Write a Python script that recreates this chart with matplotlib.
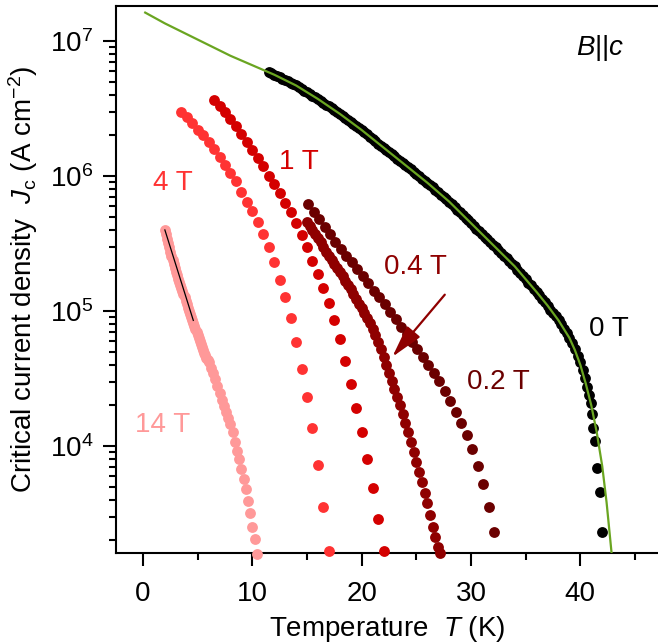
import numpy as np
import matplotlib.pyplot as plt
from matplotlib.ticker import MultipleLocator, LogLocator, NullFormatter

plt.rcParams['font.family'] = ['Liberation Sans', 'DejaVu Sans']
plt.rcParams['mathtext.fontset'] = 'custom'
plt.rcParams['mathtext.rm'] = 'Liberation Sans'
plt.rcParams['mathtext.it'] = 'Liberation Sans:italic'
plt.rcParams['mathtext.bf'] = 'Liberation Sans:bold'
plt.rcParams['font.size'] = 20

# Jc(T) data, stored as log10(Jc / A cm^-2)
t_0T = [11.5, 11.75, 12, 12.25, 12.5, 12.75, 13, 13.25, 13.5, 13.75, 14, 14.25, 14.5,
        14.75, 15, 15.25, 15.5, 15.75, 16, 16.25, 16.5, 16.75, 17, 17.25, 17.5, 17.75,
        18, 18.25, 18.5, 18.75, 19, 19.25, 19.5, 19.75, 20, 20.25, 20.5, 20.75, 21,
        21.25, 21.5, 21.75, 22, 22.25, 22.5, 22.75, 23, 23.25, 23.5, 23.75, 24, 24.25,
        24.5, 24.75, 25, 25.25, 25.5, 25.75, 26, 26.25, 26.5, 26.75, 27, 27.25, 27.5,
        27.75, 28, 28.25, 28.5, 28.75, 29, 29.25, 29.5, 29.75, 30, 30.25, 30.5, 30.75,
        31, 31.25, 31.5, 31.75, 32, 32.25, 32.5, 32.75, 33, 33.25, 33.5, 33.75, 34,
        34.25, 34.5, 34.75, 35, 35.25, 35.5, 35.75, 36, 36.25, 36.5, 36.75, 37, 37.25,
        37.5, 37.75, 38, 38.25, 38.5, 38.75, 39, 39.25, 39.5, 39.75, 40, 40.2, 40.4,
        40.6, 40.8, 41.0, 41.1, 41.2, 41.35, 41.55, 41.8, 42.0]
logj_0T = [6.77, 6.76, 6.75, 6.74, 6.73, 6.72, 6.71, 6.70, 6.69, 6.68, 6.67, 6.657, 6.645,
           6.632, 6.62, 6.607, 6.595, 6.582, 6.57, 6.555, 6.54, 6.527, 6.515, 6.502, 6.49,
           6.475, 6.46, 6.445, 6.43, 6.415, 6.40, 6.385, 6.37, 6.355, 6.34, 6.325, 6.31,
           6.292, 6.275, 6.257, 6.24, 6.225, 6.21, 6.195, 6.18, 6.162, 6.145, 6.127, 6.11,
           6.095, 6.08, 6.065, 6.05, 6.032, 6.015, 5.997, 5.98, 5.965, 5.95, 5.932, 5.915,
           5.897, 5.88, 5.862, 5.845, 5.827, 5.81, 5.79, 5.77, 5.75, 5.73, 5.71, 5.69,
           5.67, 5.65, 5.63, 5.61, 5.59, 5.57, 5.55, 5.53, 5.51, 5.49, 5.47, 5.45, 5.43,
           5.41, 5.39, 5.37, 5.35, 5.33, 5.305, 5.28, 5.257, 5.235, 5.21, 5.19, 5.165,
           5.14, 5.115, 5.09, 5.065, 5.04, 5.01, 4.985, 4.96, 4.93, 4.90, 4.865, 4.835,
           4.80, 4.76, 4.72, 4.67, 4.62, 4.56, 4.50, 4.44, 4.38, 4.32, 4.24, 4.13, 4.04,
           3.84, 3.66, 3.36]

t_02T = [15.1, 15.6, 16.1, 16.6, 17.1, 17.6, 18.1, 18.6, 19.1, 19.6, 20.1, 20.6, 21.1,
         21.6, 22.1, 22.6, 23.1, 23.6, 24.1, 24.6, 25.1, 25.6, 26.1, 26.6, 27.1, 27.6,
         28.1, 28.6, 29.1, 29.6, 30.1, 30.6, 31.1, 31.6, 32.1]
logj_02T = [5.79, 5.73, 5.68, 5.62, 5.57, 5.51, 5.46, 5.41, 5.36, 5.31, 5.26, 5.21, 5.15,
            5.10, 5.05, 4.99, 4.94, 4.88, 4.83, 4.77, 4.72, 4.66, 4.60, 4.54, 4.48, 4.41,
            4.33, 4.25, 4.17, 4.08, 3.98, 3.85, 3.72, 3.55, 3.36]

t_04T = [15.0, 15.25, 15.5, 15.75, 16.0, 16.25, 16.5, 16.75, 17.0, 17.25, 17.5, 17.75,
         18.0, 18.25, 18.5, 18.75, 19.0, 19.25, 19.5, 19.75, 20.0, 20.25, 20.5, 20.75,
         21.0, 21.25, 21.5, 21.75, 22.0, 22.25, 22.5, 22.75, 23.0, 23.25, 23.5, 23.75,
         24.0, 24.25, 24.5, 24.75, 25.0, 25.25, 25.5, 25.75, 26.0, 26.25, 26.5, 26.75,
         27.0, 27.15]
logj_04T = [5.66, 5.63, 5.60, 5.57, 5.54, 5.51, 5.475, 5.44, 5.41, 5.38, 5.35, 5.32,
            5.29, 5.26, 5.225, 5.19, 5.16, 5.125, 5.09, 5.055, 5.02, 4.985, 4.95, 4.91,
            4.87, 4.82, 4.77, 4.715, 4.66, 4.60, 4.54, 4.48, 4.42, 4.36, 4.30, 4.235,
            4.17, 4.10, 4.03, 3.955, 3.88, 3.805, 3.73, 3.655, 3.58, 3.49, 3.40, 3.325,
            3.25, 3.21]

t_1T = [6.5, 7.0, 7.5, 8.0, 8.5, 9.0, 9.5, 10.0, 10.5, 11.0, 11.5, 12.0, 12.5, 13.0,
        13.5, 14.0, 14.5, 15.0, 15.5, 16.0, 16.5, 17.0, 17.5, 18.0, 18.5, 19.0, 19.5,
        20.0, 20.5, 21.0, 21.5, 22.0]
logj_1T = [6.56, 6.52, 6.47, 6.42, 6.37, 6.31, 6.25, 6.19, 6.13, 6.07, 6.00, 5.94, 5.87,
           5.80, 5.73, 5.65, 5.56, 5.47, 5.37, 5.27, 5.17, 5.06, 4.93, 4.79, 4.63, 4.46,
           4.28, 4.10, 3.90, 3.69, 3.46, 3.22]

t_4T = [3.5, 4.0, 4.5, 5.0, 5.5, 6.0, 6.5, 7.0, 7.5, 8.0, 8.5, 9.0, 9.5, 10.0, 10.5,
        11.0, 11.5, 12.0, 12.5, 13.0, 13.5, 14.0, 14.5, 15.0, 15.5, 16.0, 16.5, 17.0]
logj_4T = [6.47, 6.44, 6.39, 6.34, 6.30, 6.25, 6.20, 6.14, 6.08, 6.02, 5.96, 5.88, 5.81,
           5.74, 5.66, 5.57, 5.47, 5.36, 5.23, 5.10, 4.95, 4.77, 4.57, 4.36, 4.13, 3.86,
           3.55, 3.22]

t_14T = [2.0, 2.1, 2.2, 2.3, 2.4, 2.5, 2.6, 2.7, 2.8, 2.9, 3.0, 3.1, 3.2, 3.3, 3.4, 3.5,
         3.6, 3.7, 3.8, 3.9, 4.0, 4.1, 4.2, 4.3, 4.4, 4.5, 4.6, 4.7, 4.8, 4.9, 5.0, 5.1,
         5.2, 5.3, 5.4, 5.5, 5.6, 5.7, 5.8, 5.9, 6.0, 6.2, 6.4, 6.6, 6.8, 7.0, 7.2, 7.4,
         7.6, 7.8, 8.0, 8.2, 8.4, 8.6, 8.8, 9.0, 9.2, 9.4, 9.6, 9.8, 10.0, 10.2, 10.4]
logj_14T = [5.60, 5.567, 5.535, 5.502, 5.47, 5.44, 5.41, 5.38, 5.35, 5.32, 5.29, 5.265,
            5.24, 5.215, 5.19, 5.167, 5.145, 5.122, 5.10, 5.075, 5.05, 5.025, 5.00, 4.977,
            4.955, 4.932, 4.91, 4.887, 4.865, 4.842, 4.82, 4.797, 4.775, 4.752, 4.73,
            4.71, 4.69, 4.672, 4.655, 4.637, 4.62, 4.58, 4.54, 4.495, 4.445, 4.39, 4.34,
            4.295, 4.25, 4.205, 4.16, 4.10, 4.03, 3.965, 3.90, 3.83, 3.755, 3.68, 3.59,
            3.50, 3.40, 3.31, 3.20]

# fit to the 0 T data
t_fit = [0.2, 2, 4, 6, 8, 10, 12, 14, 16, 18, 20, 22, 24, 26, 28, 30, 32, 34, 36, 37,
         38, 39, 39.5, 40, 40.5, 41, 41.5, 42, 42.4, 42.85]
logj_fit = [7.21, 7.13, 7.05, 6.97, 6.89, 6.82, 6.75, 6.67, 6.57, 6.46, 6.34, 6.21,
            6.08, 5.95, 5.81, 5.65, 5.49, 5.33, 5.14, 5.04, 4.93, 4.80, 4.71, 4.60,
            4.46, 4.30, 4.10, 3.85, 3.58, 3.21]

# low-T slope guide on the 14 T curve
t_guide = [2.0, 4.6]
logj_guide = [5.60, 4.93]

series = [
    ('0.2 T', t_02T, logj_02T, '#6b0000', (32.5, 3.0e4)),
    ('0.4 T', t_04T, logj_04T, '#8f0000', (24.9, 2.1e5)),
    ('1 T', t_1T, logj_1T, '#d40000', (14.3, 1.26e6)),
    ('4 T', t_4T, logj_4T, '#ff3333', (2.75, 8.9e5)),
    ('14 T', t_14T, logj_14T, '#ff9999', (1.8, 1.44e4)),
    ('0 T', t_0T, logj_0T, 'black', (42.6, 7.4e4)),
]

fig = plt.figure(figsize=(6.58, 6.44), dpi=100)
ax = fig.add_axes([0.1763, 0.1413, 0.8237, 0.8494])

for name, t, lj, col, pos in series:
    ax.plot(t, np.power(10.0, lj), 'o', color=col, ms=7.8, mew=0, clip_on=False, zorder=3)
    ax.text(pos[0], pos[1], name, color=col, ha='center', va='center')

ax.plot(t_fit, np.power(10.0, logj_fit), '-', color='#6aa521', lw=1.6, zorder=4)
ax.plot(t_guide, np.power(10.0, logj_guide), '-', color='black', lw=0.9, zorder=4)

ax.annotate('', xy=(22.8, 4.57e4), xytext=(27.6, 1.32e5),
            arrowprops=dict(arrowstyle='-|>,head_length=1.0,head_width=0.26',
                            color='#8f0000', lw=1.6, shrinkA=0, shrinkB=0,
                            mutation_scale=20), zorder=5)

ax.text(0.893, 0.923, r'$B$||$c$', transform=ax.transAxes, ha='center', va='center')

ax.set_yscale('log')
ax.set_xlim(-2.47, 47.1)
ax.set_ylim(1611, 1.815e7)

ax.xaxis.set_major_locator(MultipleLocator(10))
ax.xaxis.set_minor_locator(MultipleLocator(5))
ax.yaxis.set_major_locator(LogLocator(base=10, numticks=12))
ax.yaxis.set_minor_locator(LogLocator(base=10, subs=np.arange(2, 10), numticks=12))
ax.yaxis.set_minor_formatter(NullFormatter())

ax.tick_params(which='both', direction='out', width=1.5, top=False, right=False)
ax.tick_params(which='major', length=9.4)
ax.tick_params(which='minor', length=5)
ax.tick_params(axis='x', pad=11)
ax.tick_params(axis='y', pad=7)
for side in ['left', 'bottom', 'top']:
    ax.spines[side].set_linewidth(1.5)
ax.spines['right'].set_visible(False)

ax.set_xlabel(r'Temperature  $T$ (K)', labelpad=5)
ax.set_ylabel(r'Critical current density  $J_\mathrm{c}$ (A cm$^{-2}$)', labelpad=7)

fig.savefig('out.png', dpi=100)
